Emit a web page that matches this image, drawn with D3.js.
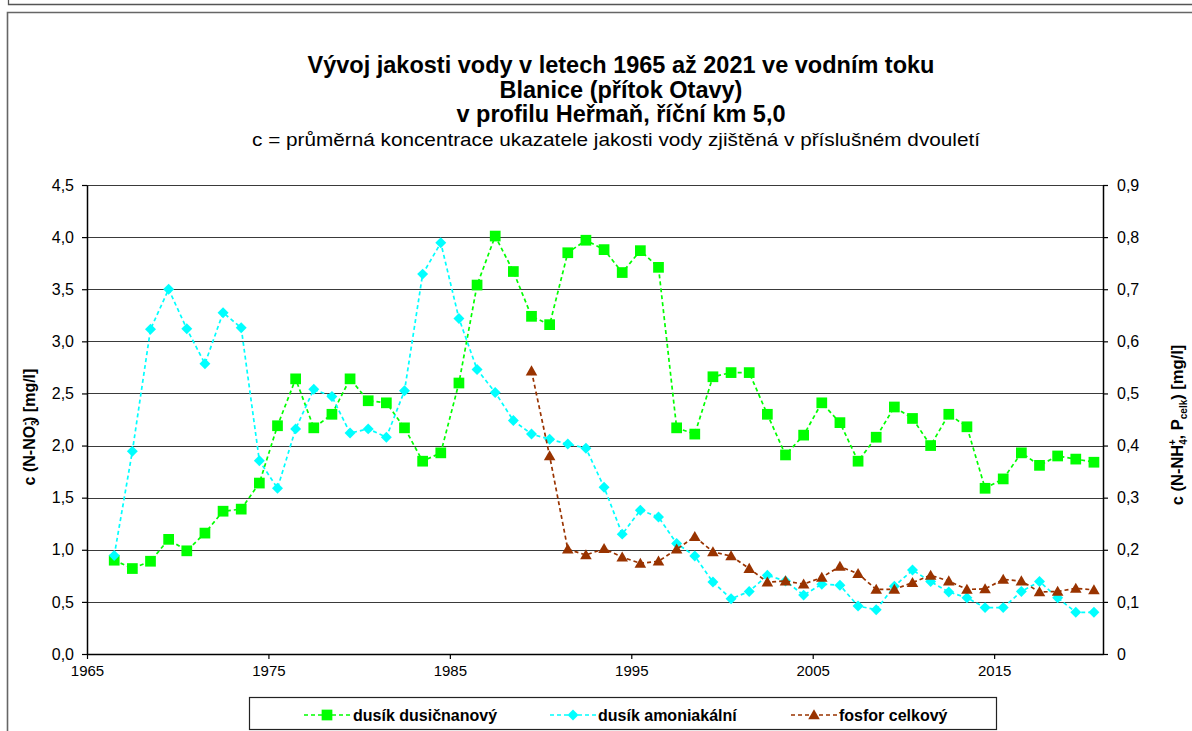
<!DOCTYPE html>
<html lang="cs">
<head>
<meta charset="utf-8">
<script src="https://cdn.jsdelivr.net/npm/d3@7"></script>
<style>
  html, body { margin: 0; padding: 0; background: #fff; }
  svg { display: block; font-family: "Liberation Sans", Arial, sans-serif; }
</style>
</head>
<body>
<svg id="chart" width="1192" height="731"></svg>
<script>
// Biennial averages, plotted at the middle of each two-year period
const periods = [
  1966.5, 1967.5, 1968.5, 1969.5, 1970.5, 1971.5, 1972.5, 1973.5, 1974.5, 1975.5,
  1976.5, 1977.5, 1978.5, 1979.5, 1980.5, 1981.5, 1982.5, 1983.5, 1984.5, 1985.5,
  1986.5, 1987.5, 1988.5, 1989.5, 1990.5, 1991.5, 1992.5, 1993.5, 1994.5, 1995.5,
  1996.5, 1997.5, 1998.5, 1999.5, 2000.5, 2001.5, 2002.5, 2003.5, 2004.5, 2005.5,
  2006.5, 2007.5, 2008.5, 2009.5, 2010.5, 2011.5, 2012.5, 2013.5, 2014.5, 2015.5,
  2016.5, 2017.5, 2018.5, 2019.5, 2020.5
];

// dusík dusičnanový, N-NO3- [mg/l] (left axis)
const nitrate = [
  0.90, 0.82, 0.89, 1.10, 0.99, 1.16, 1.37, 1.39, 1.64, 2.19,
  2.64, 2.17, 2.30, 2.64, 2.43, 2.41, 2.17, 1.85, 1.93, 2.60,
  3.54, 4.01, 3.67, 3.24, 3.16, 3.85, 3.97, 3.88, 3.66, 3.87,
  3.71, 2.17, 2.11, 2.66, 2.70, 2.70, 2.30, 1.91, 2.10, 2.41,
  2.22, 1.85, 2.08, 2.37, 2.26, 2.00, 2.30, 2.18, 1.59, 1.68,
  1.93, 1.81, 1.90, 1.87, 1.84
];

// dusík amoniakální, N-NH4+ [mg/l] (right axis)
const ammonium = [
  0.189, 0.389, 0.623, 0.700, 0.624, 0.557, 0.655, 0.626, 0.371, 0.318,
  0.432, 0.508, 0.494, 0.424, 0.432, 0.416, 0.505, 0.729, 0.789, 0.644,
  0.546, 0.502, 0.448, 0.422, 0.412, 0.403, 0.395, 0.320, 0.230, 0.276,
  0.263, 0.212, 0.188, 0.138, 0.106, 0.120, 0.151, 0.140, 0.113, 0.134,
  0.132, 0.092, 0.085, 0.130, 0.161, 0.139, 0.119, 0.108, 0.089, 0.089,
  0.120, 0.139, 0.108, 0.080, 0.080
];

// fosfor celkový, P celk [mg/l] (right axis), measured from 1989.5 on
const phosphorus = [
  null, null, null, null, null, null, null, null, null, null,
  null, null, null, null, null, null, null, null, null, null,
  null, null, null, 0.543, 0.380, 0.201, 0.190, 0.202, 0.186, 0.174,
  0.178, 0.201, 0.225, 0.196, 0.188, 0.164, 0.138, 0.140, 0.134, 0.147,
  0.168, 0.154, 0.124, 0.124, 0.137, 0.151, 0.140, 0.124, 0.125, 0.143,
  0.140, 0.119, 0.120, 0.126, 0.123
];

const xTicks = [1965, 1975, 1985, 1995, 2005, 2015];
const leftTicks = [0, 0.5, 1.0, 1.5, 2.0, 2.5, 3.0, 3.5, 4.0, 4.5];
const rightTicks = [0, 0.1, 0.2, 0.3, 0.4, 0.5, 0.6, 0.7, 0.8, 0.9];

const titleLines = [
  "Vývoj jakosti vody v letech 1965 až 2021 ve vodním toku",
  "Blanice (přítok Otavy)",
  "v profilu Heřmaň, říční km 5,0"
];
const subtitle = "c = průměrná koncentrace ukazatele jakosti vody zjištěná v příslušném dvouletí";

const seriesNames = ["dusík dusičnanový", "dusík amoniakální", "fosfor celkový"];
const seriesColors = ["#00ff00", "#00ffff", "#993300"];

// ---------------------------------------------------------------
const svg = d3.select("#chart");
const plot = { left: 87, right: 1103, top: 185, bottom: 654 };

const x = d3.scaleLinear().domain([1965, 2021]).range([plot.left, plot.right]);
const yL = d3.scaleLinear().domain([0, 4.5]).range([plot.bottom, plot.top]);
const yR = d3.scaleLinear().domain([0, 0.9]).range([plot.bottom, plot.top]);

const comma = v => v.toFixed(1).replace(".", ",");

// square turned by 45 degrees for the ammonium markers
const rotatedSquare = {
  draw(ctx, size) {
    const r = Math.sqrt(size) / Math.SQRT2;
    ctx.moveTo(0, -r); ctx.lineTo(r, 0); ctx.lineTo(0, r); ctx.lineTo(-r, 0); ctx.closePath();
  }
};

// outer frames
svg.append("path")
  .attr("d", "M8.5,0 V4.5 H1192")
  .attr("fill", "none").attr("stroke", "#555").attr("stroke-width", 1.3);
svg.append("path")
  .attr("d", "M7.5,731 V12.5 H1192")
  .attr("fill", "none").attr("stroke", "#666").attr("stroke-width", 1.6);

// titles
const title = svg.append("text")
  .attr("text-anchor", "middle")
  .attr("font-weight", "bold")
  .attr("font-size", 23.5)
  .attr("fill", "#000");
titleLines.forEach((t, i) => {
  title.append("tspan").attr("x", 621).attr("y", 73 + i * 24.7).text(t);
});
svg.append("text")
  .attr("x", 616).attr("y", 146)
  .attr("text-anchor", "middle")
  .attr("font-size", 19)
  .attr("textLength", 728)
  .attr("lengthAdjust", "spacingAndGlyphs")
  .text(subtitle);

// horizontal gridlines
svg.append("g")
  .selectAll("line")
  .data(leftTicks.filter(d => d > 0))
  .join("line")
  .attr("x1", plot.left).attr("x2", plot.right)
  .attr("y1", d => Math.round(yL(d)) + 0.5).attr("y2", d => Math.round(yL(d)) + 0.5)
  .attr("stroke", "#3a3a3a").attr("stroke-width", 1.2);

// axes
const axisStyle = size => g => {
  g.selectAll(".domain").attr("stroke", "#000").attr("stroke-width", 1.5);
  g.selectAll(".tick line").attr("stroke", "#000").attr("stroke-width", 1.2);
  g.selectAll(".tick text").attr("fill", "#000").attr("font-size", size)
    .attr("font-family", "Liberation Sans, Arial, sans-serif");
};

svg.append("g")
  .attr("transform", `translate(${plot.left},0)`)
  .call(d3.axisLeft(yL).tickValues(leftTicks).tickFormat(comma).tickSize(5).tickSizeOuter(0).tickPadding(8))
  .call(axisStyle(16));

svg.append("g")
  .attr("transform", `translate(${plot.right},0)`)
  .call(d3.axisRight(yR).tickValues(rightTicks).tickFormat(d => d === 0 ? "0" : comma(d)).tickSize(5).tickSizeOuter(0).tickPadding(9))
  .call(axisStyle(16));

svg.append("g")
  .attr("transform", `translate(0,${plot.bottom})`)
  .call(d3.axisBottom(x).tickValues(xTicks).tickFormat(d3.format("d")).tickSize(5).tickSizeOuter(0).tickPadding(6))
  .call(axisStyle(15));

// axis titles
const leftTitle = svg.append("text")
  .attr("transform", `translate(35,427) rotate(-90)`)
  .attr("text-anchor", "middle")
  .attr("font-weight", "bold")
  .attr("font-size", 16);
leftTitle.append("tspan").text("c (N-NO");
leftTitle.append("tspan").attr("font-size", 10).attr("dy", 4).text("3");
leftTitle.append("tspan").attr("font-size", 10).attr("dx", -5).attr("dy", -11).text("-");
leftTitle.append("tspan").attr("dy", 7).text(") [mg/l]");

const rightTitle = svg.append("text")
  .attr("transform", `translate(1183,425) rotate(-90)`)
  .attr("text-anchor", "middle")
  .attr("font-weight", "bold")
  .attr("font-size", 16.5);
rightTitle.append("tspan").text("c (N-NH");
rightTitle.append("tspan").attr("font-size", 10).attr("dy", 4).text("4");
rightTitle.append("tspan").attr("font-size", 10).attr("dx", -6).attr("dy", -11).text("+");
rightTitle.append("tspan").attr("dy", 7).text(", P");
rightTitle.append("tspan").attr("font-size", 10).attr("dy", 4).text("celk");
rightTitle.append("tspan").attr("dy", -4).text(") [mg/l]");

// series
const series = [
  { values: nitrate, y: yL, color: seriesColors[0], symbol: d3.symbolSquare, size: 115, offset: 0 },
  { values: ammonium, y: yR, color: seriesColors[1], symbol: rotatedSquare, size: 60, offset: 0 },
  { values: phosphorus, y: yR, color: seriesColors[2], symbol: d3.symbolTriangle, size: 58, offset: 1 }
];

series.forEach(s => {
  const pts = periods.map((p, i) => ({ p, v: s.values[i] })).filter(d => d.v != null);
  const line = d3.line().x(d => x(d.p)).y(d => s.y(d.v));
  const g = svg.append("g");
  g.append("path")
    .attr("d", line(pts))
    .attr("fill", "none")
    .attr("stroke", s.color)
    .attr("stroke-width", 1.7)
    .attr("stroke-dasharray", "4,3");
  g.selectAll("path.m")
    .data(pts)
    .join("path")
    .attr("class", "m")
    .attr("transform", d => `translate(${x(d.p)},${s.y(d.v) + s.offset})`)
    .attr("d", d3.symbol().type(s.symbol).size(s.size))
    .attr("fill", s.color);
});

// legend
const legend = svg.append("g");
legend.append("rect")
  .attr("x", 249.5).attr("y", 697.5).attr("width", 747).attr("height", 32)
  .attr("fill", "#fff").attr("stroke", "#222").attr("stroke-width", 1.2);

const legendItems = [
  { x0: 304, tx: 353, symbol: d3.symbolSquare, size: 115 },
  { x0: 550, tx: 598, symbol: rotatedSquare, size: 60 },
  { x0: 791, tx: 839, symbol: d3.symbolTriangle, size: 58 }
];
legendItems.forEach((it, i) => {
  const cy = 715;
  legend.append("line")
    .attr("x1", it.x0).attr("x2", it.x0 + 46)
    .attr("y1", cy).attr("y2", cy)
    .attr("stroke", seriesColors[i]).attr("stroke-width", 1.7)
    .attr("stroke-dasharray", "4,3");
  legend.append("path")
    .attr("transform", `translate(${it.x0 + 23},${cy + (i === 2 ? 1 : 0)})`)
    .attr("d", d3.symbol().type(it.symbol).size(it.size))
    .attr("fill", seriesColors[i]);
  legend.append("text")
    .attr("x", it.tx).attr("y", cy + 5.5)
    .attr("font-weight", "bold").attr("font-size", 16)
    .text(seriesNames[i]);
});
</script>
</body>
</html>
